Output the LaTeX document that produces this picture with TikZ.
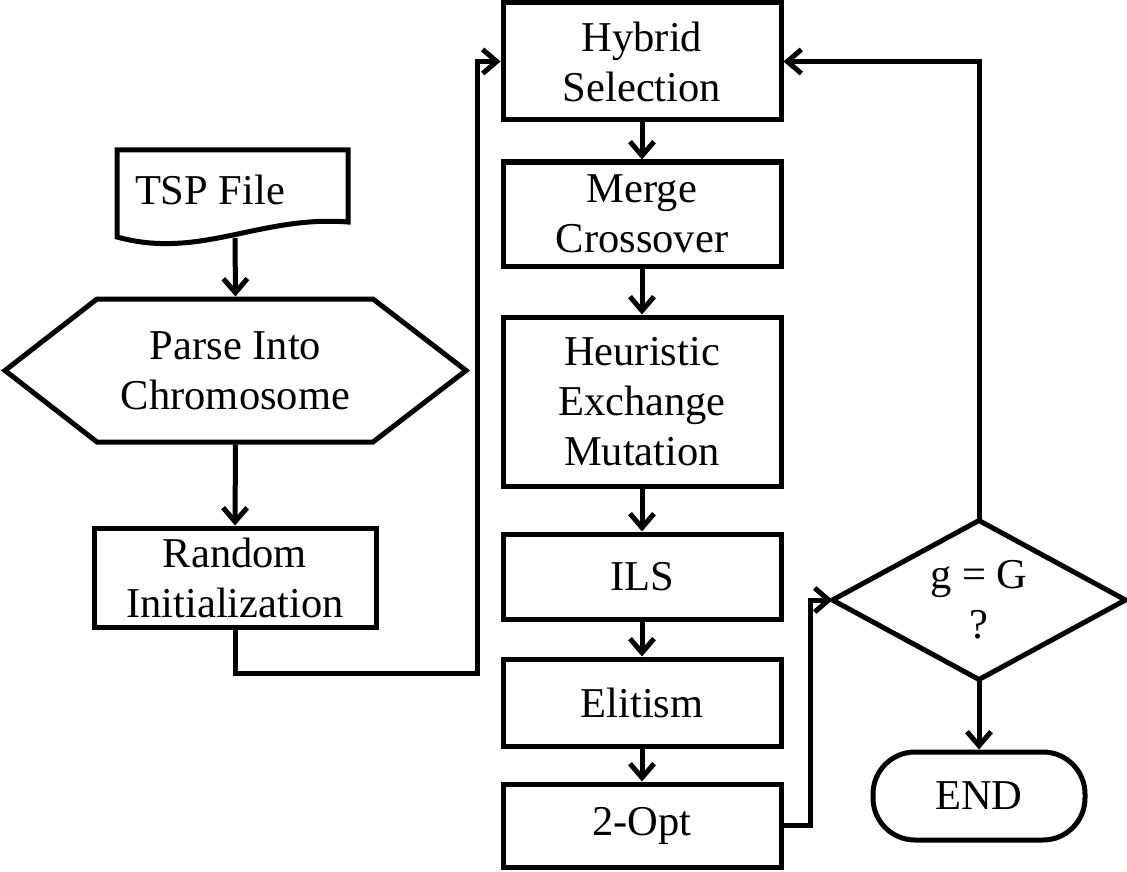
\documentclass[tikz,border=0pt]{standalone}
\usepackage{fontspec}
\setmainfont{Liberation Serif}
\usetikzlibrary{arrows.meta}
\begin{document}
\begin{tikzpicture}[x=1pt,y=-1pt,
  line width=5pt,
  every node/.style={font=\fontsize{42.5}{50}\selectfont, align=center, inner sep=0pt},
  procbox/.style={draw, rectangle, minimum width=278, minimum height=#1},
  holder/.style={rectangle, minimum width=#1},
  arr/.style={-{Straight Barb[length=14pt,width=24pt]}},
  wire/.style={line join=miter}
]
\useasboundingbox (0,0) rectangle (1127,872);

% input file (document shape)
\node (tsp) at (210,190) {TSP File};
\draw (117,150) -- (348,150) -- (348,222)
      .. controls (260,215) and (200,260) .. (117,237) -- cycle;
\coordinate (tspout) at (235,238);

% parse step (hexagon)
\node[holder=461, minimum height=143] (parse) at (235.5,370.5) {Parse Into\\Chromosome};
\draw (5,370.5) -- (97,299) -- (373,299) -- (466,370.5) -- (373,442) -- (97,442) -- cycle;

% initial population
\node[draw, rectangle, minimum width=282, minimum height=99] (rand) at (235,577.5) {Random\\Initialization};

% GA loop
\node[procbox=117] (hyb)  at (642,61.5)  {Hybrid\\Selection};
\node[procbox=104] (merge) at (642,214)  {Merge\\Crossover};
\node[procbox=169] (heur) at (642,401.5) {Heuristic\\Exchange\\Mutation};
\node[procbox=85]  (ils)  at (642,576.5) {ILS};
\node[procbox=87]  (elit) at (642,702.5) {Elitism};
\node[procbox=83]  (opt)  at (642,825.5) {2-Opt};

% termination test
\node[holder=288, minimum height=154] (dec) at (979,600) {g = G\\?};
\draw (dec.north) -- (dec.east) -- (dec.south) -- (dec.west) -- cycle;

\node[draw, rectangle, rounded corners=42pt, minimum width=212, minimum height=88] (end) at (979,796) {END};

% connectors
\coordinate (j1) at (477,673);
\coordinate (j2) at (810,700);

\draw[arr] (tspout) -- (parse.north);
\draw[arr] (parse.south) -- (rand.north);
\draw[arr,wire] (rand.south) |- (j1) |- (hyb.west);
\draw[arr] (hyb.south) -- (merge.north);
\draw[arr] (merge.south) -- (heur.north);
\draw[arr] (heur.south) -- (ils.north);
\draw[arr] (ils.south) -- (elit.north);
\draw[arr] (elit.south) -- (opt.north);
\draw[arr,wire] (opt.east) -| (j2) |- (dec.west);
\draw[arr,wire] (dec.north) |- (hyb.east);
\draw[arr] (dec.south) -- (end.north);
\end{tikzpicture}
\end{document}
